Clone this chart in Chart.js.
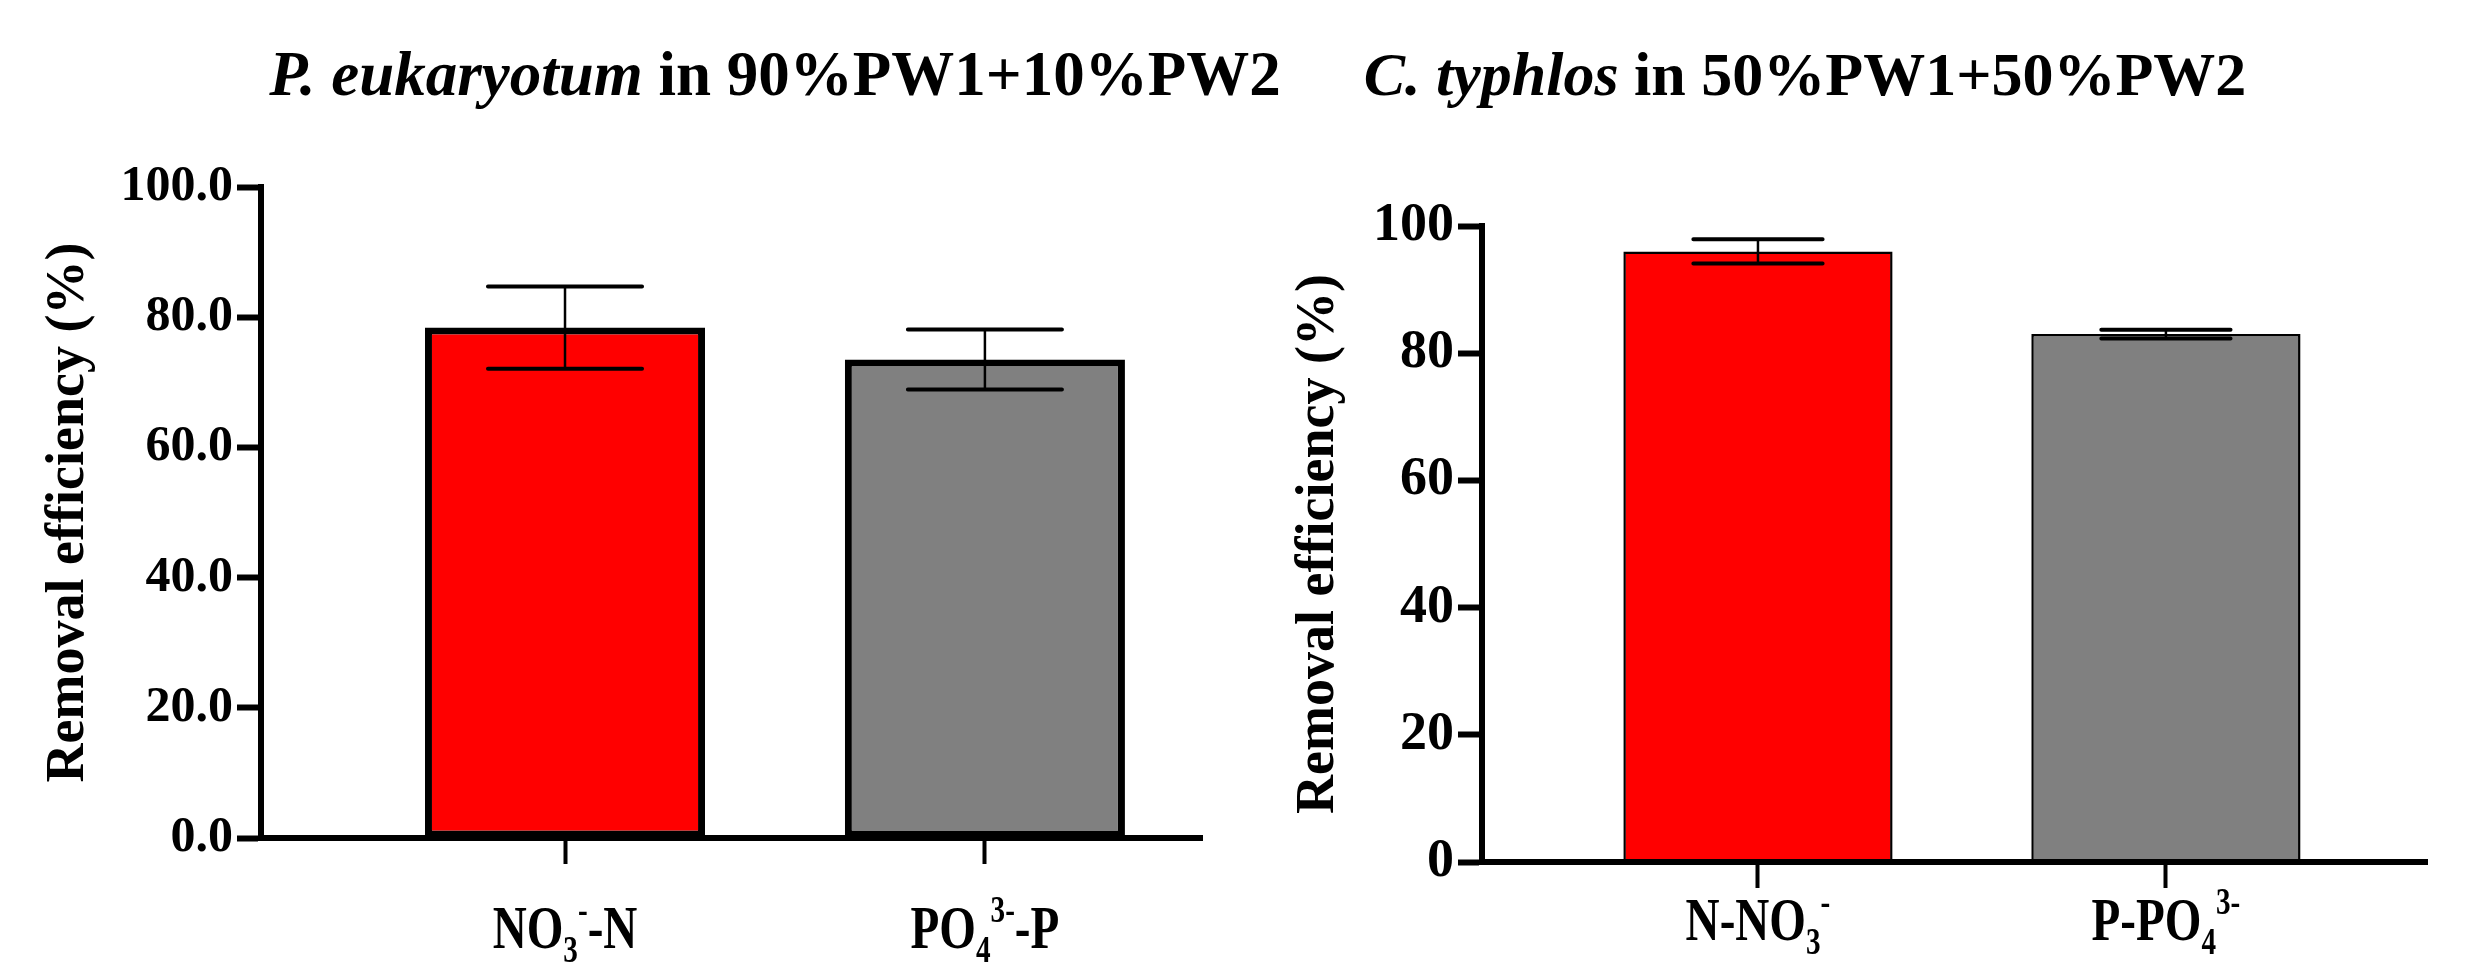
<!DOCTYPE html>
<html>
<head>
<meta charset="utf-8">
<script src="https://cdn.jsdelivr.net/npm/chart.js@4/dist/chart.umd.min.js"></script>
<style>
  html, body { margin: 0; padding: 0; background: #fff; }
  #wrap { position: relative; width: 2479px; height: 964px; }
  .box { position: absolute; top: 0; height: 964px; }
  #leftBox { left: 0; width: 1320px; }
  #rightBox { left: 1270px; width: 1209px; }
</style>
</head>
<body>
<div id="wrap">
  <div class="box" id="leftBox"><canvas id="leftChart"></canvas></div>
  <div class="box" id="rightBox"><canvas id="rightChart"></canvas></div>
</div>
<script>
// --- data ---
const leftTitle = [['P. eukaryotum', 'i'], [' in 90%PW1+10%PW2', 'n']];
const leftCategories = [
    [['NO', 'n'], ['3', 'sub'], ['-', 'sup'], ['-N', 'n']],
    [['PO', 'n'], ['4', 'sub'], ['3-', 'sup'], ['-P', 'n']]
];
const leftPositions = [1, 2];
const leftValues = [78.4, 73.5];
const leftErrors = [6.3, 4.6];
const leftTickLabels = ['0.0', '20.0', '40.0', '60.0', '80.0', '100.0'];

const rightTitle = [['C. typhlos', 'i'], [' in 50%PW1+50%PW2', 'n']];
const rightCategories = [
    [['N-NO', 'n'], ['3', 'sub'], ['-', 'sup']],
    [['P-PO', 'n'], ['4', 'sub'], ['3-', 'sup']]
];
const rightPositions = [1, 2];
const rightValues = [96.0, 83.0];
const rightErrors = [1.9, 0.7];
const rightTickLabels = ['0', '20', '40', '60', '80', '100'];

const barColors = ['#ff0000', '#808080'];
const yLabel = 'Removal efficiency (%)';
const FONT = '"Liberation Serif", "Times New Roman", serif';

// draws text made of normal / italic / sub / sup pieces, centred on cx
function drawRich(ctx, segs, cx, baseline, size, sx) {
    const fontFor = kind => {
        const s = (kind === 'sub' || kind === 'sup') ? size * 0.62 : size;
        return (kind === 'i' ? 'italic ' : '') + 'bold ' + s + 'px ' + FONT;
    };
    let total = 0;
    segs.forEach(([t, k]) => { ctx.font = fontFor(k); total += ctx.measureText(t).width; });
    ctx.save();
    ctx.translate(cx - total * sx / 2, baseline);
    ctx.scale(sx, 1);
    ctx.fillStyle = '#000';
    ctx.textBaseline = 'alphabetic';
    ctx.textAlign = 'left';
    let x = 0;
    segs.forEach(([t, k]) => {
        ctx.font = fontFor(k);
        let dy = 0;
        if (k === 'sub') dy = size * 0.22;
        if (k === 'sup') dy = -size * 0.42;
        ctx.fillText(t, x, dy);
        x += ctx.measureText(t).width;
    });
    ctx.restore();
}

const errorBars = {
    id: 'errorBars',
    afterDatasetsDraw(chart, args, opts) {
        const ctx = chart.ctx;
        const y = chart.scales.y;
        const meta = chart.getDatasetMeta(0);
        meta.data.forEach((bar, i) => {
            const v = opts.values[i], e = opts.errors[i];
            const top = y.getPixelForValue(v + e);
            const bot = y.getPixelForValue(v - e);
            const half = bar.width * opts.capFrac / 2;
            ctx.save();
            ctx.strokeStyle = '#000';
            ctx.lineWidth = opts.stemWidth;
            ctx.beginPath();
            ctx.moveTo(bar.x, top);
            ctx.lineTo(bar.x, bot);
            ctx.stroke();
            ctx.lineWidth = opts.capWidth;
            ctx.lineCap = 'round';
            ctx.beginPath();
            ctx.moveTo(bar.x - half, top); ctx.lineTo(bar.x + half, top);
            ctx.moveTo(bar.x - half, bot); ctx.lineTo(bar.x + half, bot);
            ctx.stroke();
            ctx.restore();
        });
    }
};

const richText = {
    id: 'richText',
    afterDraw(chart, args, opts) {
        const ctx = chart.ctx;
        drawRich(ctx, opts.title, opts.titleX, opts.titleY, opts.titleSize, 1);
        const xs = chart.scales.x;
        opts.categories.forEach((segs, i) => {
            drawRich(ctx, segs, xs.getPixelForValue(opts.positions[i]), opts.labelY, opts.labelSize, opts.labelScale);
        });
    }
};

function makeChart(id, cfg) {
    const ctx = document.getElementById(id).getContext('2d');
    return new Chart(ctx, {
        type: 'bar',
        data: {
            datasets: [{
                data: cfg.positions.map((p, i) => ({ x: p, y: cfg.values[i] })),
                backgroundColor: barColors,
                borderColor: '#000',
                borderWidth: cfg.barBorder,
                borderSkipped: false,
                barPercentage: cfg.barFrac,
                categoryPercentage: 1
            }]
        },
        options: {
            responsive: true,
            maintainAspectRatio: false,
            animation: false,
            layout: { padding: cfg.padding },
            plugins: {
                legend: { display: false },
                tooltip: { enabled: false },
                errorBars: {
                    values: cfg.values, errors: cfg.errors,
                    capFrac: cfg.capFrac, stemWidth: cfg.stemWidth, capWidth: cfg.capWidth
                },
                richText: {
                    title: cfg.title, titleX: cfg.titleX, titleY: cfg.titleY, titleSize: cfg.titleSize,
                    categories: cfg.categories, positions: cfg.positions,
                    labelY: cfg.labelY, labelSize: cfg.labelSize, labelScale: cfg.labelScale
                }
            },
            scales: {
                x: {
                    type: 'linear',
                    offset: false,
                    min: cfg.xMin,
                    max: cfg.xMax,
                    afterBuildTicks: axis => { axis.ticks = cfg.positions.map(v => ({ value: v })); },
                    afterFit: axis => { axis.height = cfg.xHeight; },
                    ticks: { callback: () => '' },
                    grid: {
                        offset: false,
                        drawOnChartArea: false, drawTicks: true,
                        tickLength: 26, tickWidth: 4, tickColor: '#000'
                    },
                    border: { display: true, color: '#000', width: cfg.axisWidth }
                },
                y: {
                    min: 0,
                    max: 100,
                    afterFit: axis => { axis.width = cfg.yWidth; },
                    ticks: {
                        stepSize: 20,
                        color: '#000',
                        padding: 4,
                        font: { family: FONT, weight: 'bold', size: cfg.tickSize },
                        callback: (v, i) => cfg.tickLabels[i]
                    },
                    grid: {
                        drawOnChartArea: false, drawTicks: true,
                        tickLength: 24, tickWidth: cfg.axisWidth, tickColor: '#000'
                    },
                    border: { display: true, color: '#000', width: cfg.axisWidth },
                    title: {
                        display: true,
                        text: yLabel,
                        color: '#000',
                        padding: 0,
                        font: { family: FONT, weight: 'bold', size: 54 }
                    }
                }
            }
        },
        plugins: [errorBars, richText]
    });
}

makeChart('leftChart', {
    title: leftTitle, categories: leftCategories, positions: leftPositions,
    values: leftValues, errors: leftErrors, tickLabels: leftTickLabels,
    padding: { left: 37, top: 187, right: 118, bottom: 0 },
    xMin: 0.276, xMax: 2.517, yWidth: 224, xHeight: 126,
    barFrac: 0.667, barBorder: 7, axisWidth: 6, stemWidth: 2.5, capWidth: 4, capFrac: 0.55,
    tickSize: 50, titleX: 775, titleY: 95, titleSize: 63,
    labelY: 948, labelSize: 62, labelScale: 0.76
});

makeChart('rightChart', {
    title: rightTitle, categories: rightCategories, positions: rightPositions,
    values: rightValues, errors: rightErrors, tickLabels: rightTickLabels,
    padding: { left: 17, top: 226, right: 52, bottom: 0 },
    xMin: 0.3235, xMax: 2.64, yWidth: 195, xHeight: 102,
    barFrac: 0.66, barBorder: 2.5, axisWidth: 6, stemWidth: 2.5, capWidth: 4, capFrac: 0.48,
    tickSize: 54, titleX: 535, titleY: 95, titleSize: 62,
    labelY: 940, labelSize: 62, labelScale: 0.76
});
</script>
</body>
</html>
